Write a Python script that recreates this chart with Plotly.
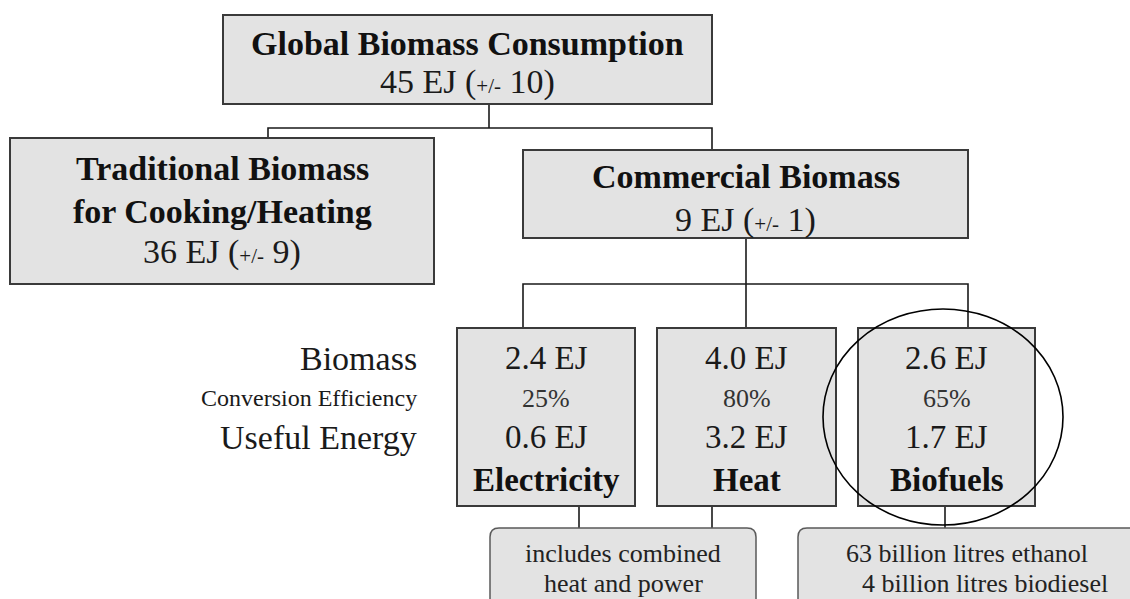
import plotly.graph_objects as go

# ---------------- data ----------------
root_title = "Global Biomass Consumption"
root_value = 45
root_unc = 10

branch_titles = ["Traditional Biomass<br>for Cooking/Heating", "Commercial Biomass"]
branch_values = [36, 9]
branch_uncs = [9, 1]

row_labels = ["Biomass", "Conversion Efficiency", "Useful Energy"]
use_names = ["Electricity", "Heat", "Biofuels"]
biomass_ej = [2.4, 4.0, 2.6]
efficiency_pct = [25, 80, 65]
useful_ej = [0.6, 3.2, 1.7]

notes = ["includes combined<br>heat and power",
         "63 billion litres ethanol<br>4 billion litres biodiesel"]

# ---------------- layout geometry (pixels) ----------------
W, H = 1130, 599
FONT = "Liberation Serif, Times New Roman, serif"
BOX_FILL = "#e3e3e3"
BOX_LINE = "#3a3a3a"
TXT = "#111111"

root_box = (223, 15, 712, 104)
branch_boxes = [(10, 138, 434, 284), (523, 150, 968, 238)]
use_boxes = [(457, 328, 635, 506), (657, 328, 836, 506), (858, 328, 1035, 506)]
note_boxes = [(490, 528, 756, 640), (798, 528, 1160, 640)]

shapes = []
annotations = []


def rect(b, fill=BOX_FILL, line=BOX_LINE, width=2):
    shapes.append(dict(type="rect", xref="x", yref="y", x0=b[0], y0=b[1], x1=b[2], y1=b[3],
                       fillcolor=fill, line=dict(color=line, width=width), layer="below"))


def rrect(b, r=9):
    x0, y0, x1, y1 = b
    p = (f"M{x0+r},{y0} L{x1-r},{y0} Q{x1},{y0} {x1},{y0+r} L{x1},{y1-r} Q{x1},{y1} {x1-r},{y1} "
         f"L{x0+r},{y1} Q{x0},{y1} {x0},{y1-r} L{x0},{y0+r} Q{x0},{y0} {x0+r},{y0} Z")
    shapes.append(dict(type="path", xref="x", yref="y", path=p, fillcolor=BOX_FILL,
                       line=dict(color="#5a5a5a", width=1.5), layer="below"))


def seg(pts, width=1.6, color="#1a1a1a"):
    p = "M" + " L".join(f"{x},{y}" for x, y in pts)
    shapes.append(dict(type="path", xref="x", yref="y", path=p,
                       line=dict(color=color, width=width), layer="below"))


def text(x, y, s, size=34, bold=False, anchor="center", color=TXT):
    if bold:
        s = "<b>" + s + "</b>"
    annotations.append(dict(x=x, y=y, xref="x", yref="y", text=s, showarrow=False,
                            xanchor=anchor, yanchor="middle",
                            font=dict(family=FONT, size=size, color=color)))


def unc_text(v, u):
    return f'{v} EJ (<span style="font-size:21px">+/-</span> {u})'


# connectors
seg([(489, 104), (489, 128)])
seg([(268, 138), (268, 128), (712, 128), (712, 150)])
seg([(746, 238), (746, 328)])
seg([(523, 328), (523, 284), (968, 284), (968, 328)])
seg([(579, 506), (579, 528)])
seg([(712, 506), (712, 528)])
seg([(945, 506), (945, 528)])

# boxes
rect(root_box)
for b in branch_boxes:
    rect(b)
for b in use_boxes:
    rect(b)
for b in note_boxes:
    rrect(b)

# highlight circle
shapes.append(dict(type="circle", xref="x", yref="y", x0=823, y0=309, x1=1063, y1=525,
                   line=dict(color="#000000", width=1.6), layer="above"))

# root text
cx = (root_box[0] + root_box[2]) / 2
text(cx, 43, root_title, bold=True)
text(cx, 82, unc_text(root_value, root_unc), color="#1a1a1a")

# branch texts
t_lines = branch_titles[0].split("<br>")
tx = (branch_boxes[0][0] + branch_boxes[0][2]) / 2
text(tx, 168, t_lines[0], bold=True)
text(tx, 211, t_lines[1], bold=True)
text(tx, 252, unc_text(branch_values[0], branch_uncs[0]), color="#1a1a1a")

cx2 = (branch_boxes[1][0] + branch_boxes[1][2]) / 2
text(cx2, 176, branch_titles[1], bold=True)
text(cx2, 220, unc_text(branch_values[1], branch_uncs[1]), color="#1a1a1a")

# row labels
row_y = [358, 398, 437]
row_sizes = [34, 24, 34]
for lab, y, sz in zip(row_labels, row_y, row_sizes):
    text(419, y, lab, size=sz, anchor="right", color="#1a1a1a")

# use boxes
for b, name, be, eff, ue in zip(use_boxes, use_names, biomass_ej, efficiency_pct, useful_ej):
    ux = (b[0] + b[2]) / 2
    text(ux, 358, f"{be:.1f} EJ", size=33, color="#1a1a1a")
    text(ux, 398, f"{eff}%", size=26, color="#333333")
    text(ux, 437, f"{ue:.1f} EJ", size=33, color="#1a1a1a")
    text(ux, 480, name, size=33, bold=True)

# notes
n1 = notes[0].split("<br>")
text(623, 553, n1[0], size=26, color="#222222")
text(623, 583, n1[1], size=26, color="#222222")
n2 = notes[1].split("<br>")
text(967, 553, n2[0], size=26, color="#222222")
text(985, 583, n2[1], size=26, color="#222222")

fig = go.Figure()
fig.update_layout(
    width=W, height=H,
    margin=dict(l=0, r=0, t=0, b=0),
    paper_bgcolor="white", plot_bgcolor="white",
    xaxis=dict(range=[0, W], visible=False, fixedrange=True),
    yaxis=dict(range=[H, 0], visible=False, fixedrange=True),
    shapes=shapes, annotations=annotations, showlegend=False,
)
fig.write_html("out.html", config={"displayModeBar": False},
               post_script="document.body.style.margin='0';document.body.style.overflow='hidden';")
